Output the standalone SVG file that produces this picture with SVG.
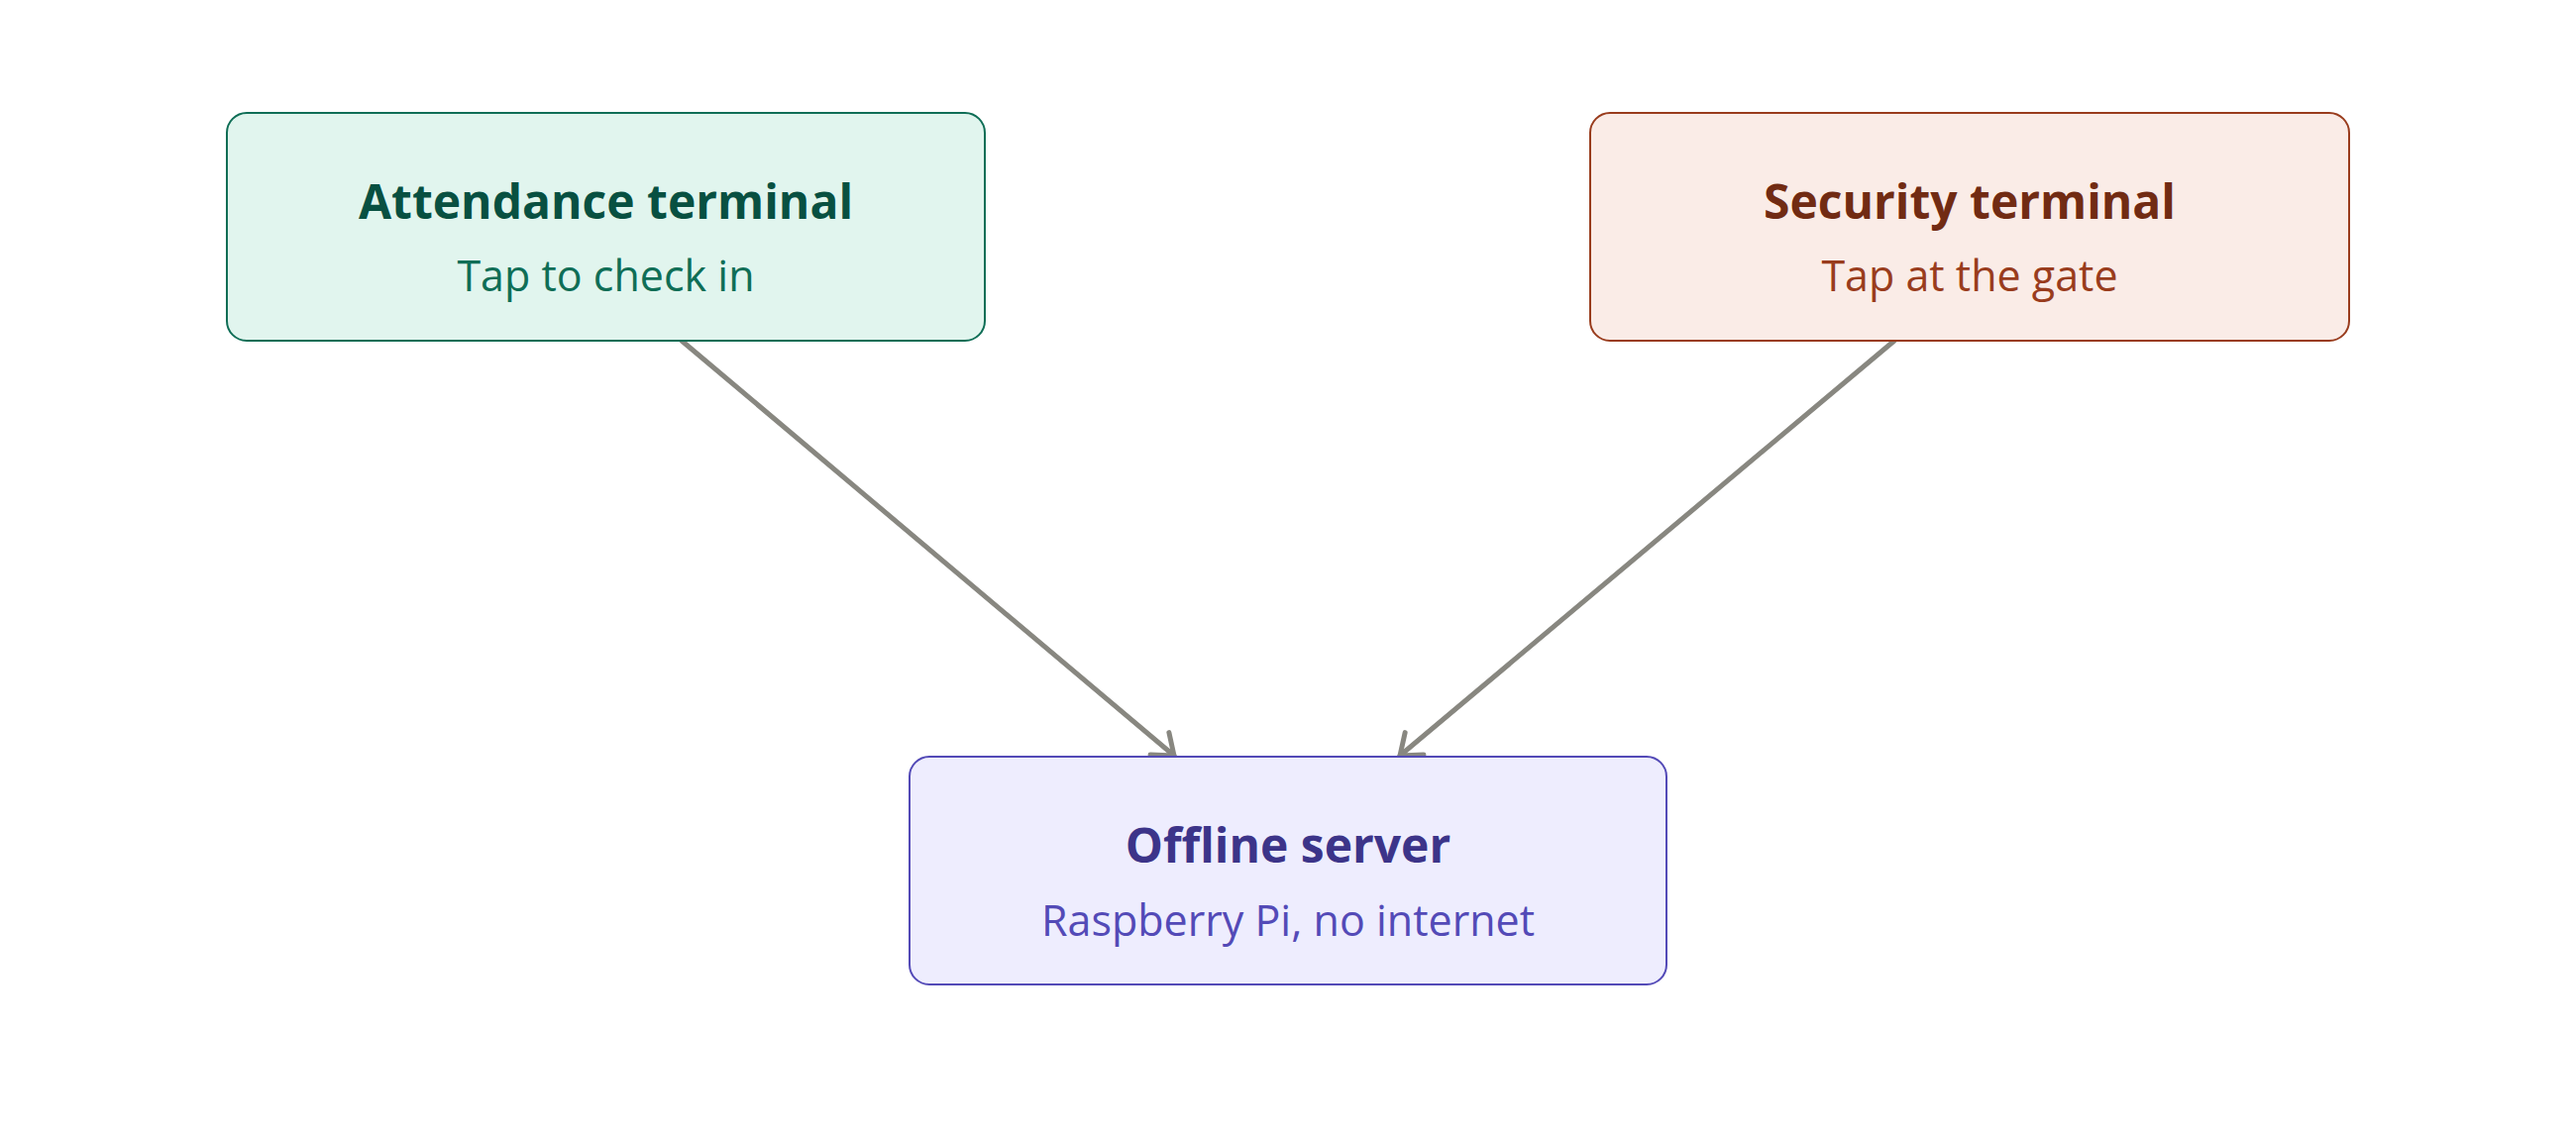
<svg xmlns="http://www.w3.org/2000/svg" width="2600" height="1147" viewBox="0 0 2600 1147">
<style>
.box{stroke-width:2}
.t{font-family:"Open Sans","Noto Sans",sans-serif;font-weight:700;font-size:48px;text-anchor:middle}
.s{font-family:"Open Sans","Noto Sans",sans-serif;font-weight:400;font-size:43px;text-anchor:middle}
.edge{stroke:#888780;stroke-width:5;fill:none;stroke-linecap:round}
</style>
<defs>
<marker id="arr" markerUnits="userSpaceOnUse" markerWidth="40" markerHeight="40" viewBox="-30 -20 40 40" refX="0" refY="0" orient="auto">
<path d="M-19 -14.6 L0 0 L-19 14.6" fill="none" stroke="#888780" stroke-width="5" stroke-linecap="round" stroke-linejoin="round"/>
</marker>
</defs>
<rect width="2600" height="1147" fill="#ffffff"/>
<g id="connectors">
<line class="edge" x1="688" y1="344" x2="1185" y2="763" marker-end="url(#arr)"/>
<line class="edge" x1="1912" y1="344" x2="1413" y2="763" marker-end="url(#arr)"/>
</g>
<g id="attendance">
<rect class="box" x="229" y="114" width="765" height="230" rx="20" fill="#E1F5EE" stroke="#0F6E56"/>
<text class="t" x="611.5" y="221" fill="#085041">Attendance terminal</text>
<text class="s" x="611.5" y="294" fill="#0F6E56">Tap to check in</text>
</g>
<g id="security">
<rect class="box" x="1605" y="114" width="766" height="230" rx="20" fill="#FAECE7" stroke="#993C1D"/>
<text class="t" x="1988" y="221" fill="#712B13">Security terminal</text>
<text class="s" x="1988" y="294" fill="#993C1D">Tap at the gate</text>
</g>
<g id="offline">
<rect class="box" x="918" y="764" width="764" height="230" rx="20" fill="#EEEDFE" stroke="#534AB7"/>
<text class="t" x="1300" y="871" fill="#3C3489">Offline server</text>
<text class="s" x="1300" y="945" fill="#534AB7">Raspberry Pi, no internet</text>
</g>
</svg>
